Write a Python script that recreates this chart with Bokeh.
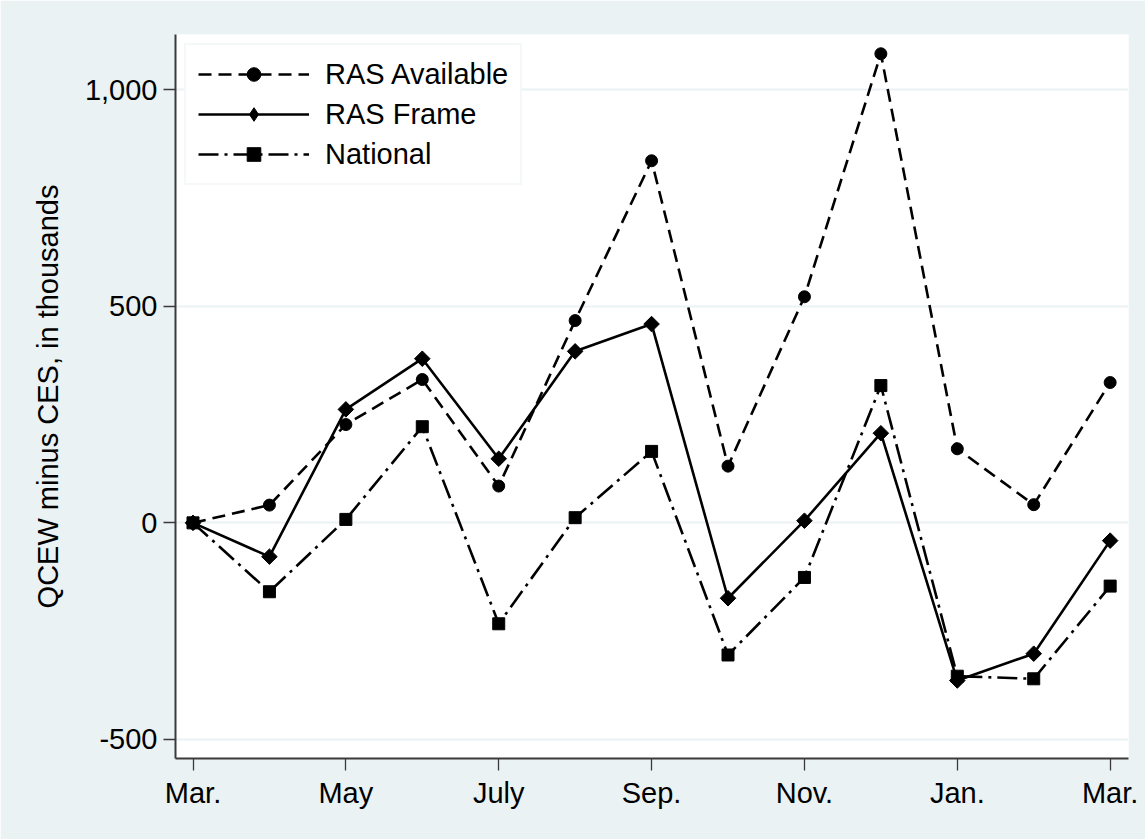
import numpy as np
from bokeh.plotting import figure
from bokeh.models import FixedTicker, NumeralTickFormatter, Range1d, Legend, LegendItem
from bokeh.embed import file_html
from bokeh.resources import INLINE

month_idx = list(range(13))
tick_positions = [0, 2, 4, 6, 8, 10, 12]
tick_labels = ["Mar.", "May", "July", "Sep.", "Nov.", "Jan.", "Mar."]

ras_available = [0, 41, 227, 331, 85, 467, 836, 131, 522, 1083, 171, 42, 324]
ras_frame = [0, -78, 262, 379, 148, 396, 459, -174, 5, 207, -364, -302, -41]
national = [0, -159, 8, 222, -233, 12, 165, -305, -126, 317, -354, -360, -146]

y_ticks = [-500, 0, 500, 1000]

BG = "#EAF2F3"
FONT = "Liberation Sans"
FS = "29px"

p = figure(width=1145, height=839, output_backend="svg", toolbar_location=None,
           x_range=Range1d(-0.229, 12.24), y_range=Range1d(-544, 1127.5),
           min_border_left=175, min_border_right=17, min_border_top=34, min_border_bottom=81)
p.background_fill_color = "white"
p.border_fill_color = BG
p.outline_line_color = None

r1 = p.line(month_idx, ras_available, line_color="black", line_width=2.6, line_dash="13 7")
s1 = p.scatter(month_idx, ras_available, marker="circle", size=12, color="black")
r2 = p.line(month_idx, ras_frame, line_color="black", line_width=2.6)
s2 = p.scatter(month_idx, ras_frame, marker="square", angle=np.pi / 4, size=11, color="black")
r3 = p.line(month_idx, national, line_color="black", line_width=2.6, line_dash="20 6 3 6")
s3 = p.scatter(month_idx, national, marker="square", size=12, color="black")

# legend-only diamond (no data drawn)
s2_leg = p.scatter([float("nan")], [float("nan")], marker="diamond", size=17, color="black")

# axes
p.xaxis.ticker = FixedTicker(ticks=tick_positions)
p.xaxis.major_label_overrides = {t: l for t, l in zip(tick_positions, tick_labels)}
p.yaxis.ticker = FixedTicker(ticks=y_ticks)
p.yaxis.formatter = NumeralTickFormatter(format="0,0")
for ax in (p.xaxis, p.yaxis):
    ax.axis_line_color = "#3a3a3a"
    ax.axis_line_width = 2
    ax.major_tick_line_color = "#3a3a3a"
    ax.major_tick_line_width = 1.3
    ax.major_tick_out = 12
    ax.major_tick_in = 0
    ax.minor_tick_line_color = None
    ax.major_label_text_font = FONT
    ax.major_label_text_font_size = FS
    ax.major_label_text_color = "black"
p.xaxis.major_label_standoff = 6
p.yaxis.major_label_standoff = 6
p.yaxis.major_label_orientation = "horizontal"
p.yaxis.axis_label = "QCEW minus CES, in thousands"
p.yaxis.axis_label_text_font = FONT
p.yaxis.axis_label_text_font_size = "29px"
p.yaxis.axis_label_text_font_style = "normal"
p.yaxis.axis_label_text_color = "black"
p.yaxis.axis_label_standoff = 18

p.xgrid.grid_line_color = None
p.ygrid.grid_line_color = BG
p.ygrid.grid_line_width = 2

legend = Legend(items=[
    LegendItem(label="RAS Available", renderers=[r1, s1]),
    LegendItem(label="RAS Frame", renderers=[r2, s2_leg]),
    LegendItem(label="National", renderers=[r3, s3]),
], location="top_left")
legend.margin = 9
legend.padding = 12
legend.spacing = 6
legend.glyph_width = 111
legend.glyph_height = 34
legend.label_height = 30
legend.label_standoff = 16
legend.label_text_font = FONT
legend.label_text_font_size = FS
legend.label_text_color = "black"
legend.border_line_color = BG
legend.border_line_width = 2
legend.background_fill_color = "white"
legend.background_fill_alpha = 1
p.add_layout(legend)

open("out.html", "w").write(file_html(p, INLINE))
